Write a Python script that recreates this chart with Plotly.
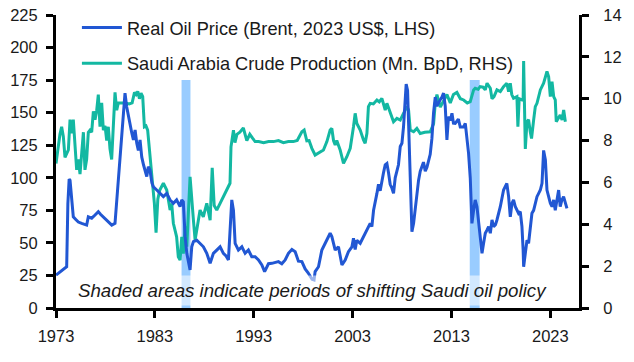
import plotly.graph_objects as go

# ---------------- data ----------------
price_years = [
    1973.0, 1973.3, 1973.58, 1973.9, 1974.08, 1974.2, 1974.33, 1974.42, 1974.59, 1974.75,
    1975.0, 1975.26, 1975.6, 1976.1, 1976.27, 1976.61, 1976.95, 1977.28, 1977.5, 1977.79,
    1978.13, 1978.64, 1978.97, 1979.14, 1979.3, 1979.65, 1979.8, 1979.98, 1980.15, 1980.32,
    1980.49, 1980.65, 1980.83, 1981.0, 1981.17, 1981.33, 1981.5, 1981.67, 1981.85, 1982.0,
    1982.18, 1982.34, 1982.5, 1982.7, 1982.85, 1983.19, 1983.53, 1983.86, 1984.2, 1984.54,
    1984.87, 1985.2, 1985.55, 1985.72, 1985.88, 1986.06, 1986.23, 1986.39, 1986.56, 1986.73,
    1986.9, 1987.24, 1987.57, 1987.91, 1988.25, 1988.59, 1988.92, 1989.26, 1989.6, 1989.93,
    1990.2, 1990.44, 1990.61, 1990.78, 1990.95, 1991.12, 1991.45, 1991.8, 1992.13, 1992.46,
    1992.8, 1993.14, 1993.48, 1993.82, 1994.1, 1994.49, 1994.83, 1995.17, 1995.5, 1995.84,
    1996.18, 1996.51, 1996.86, 1997.19, 1997.52, 1997.87, 1998.2, 1998.5, 1998.9, 1999.1,
    1999.21, 1999.55, 1999.89, 2000.23, 2000.4, 2000.73, 2000.9, 2001.24, 2001.57, 2001.92,
    2002.25, 2002.58, 2002.93, 2003.09, 2003.26, 2003.43, 2003.77, 2004.1, 2004.45, 2004.78,
    2004.95, 2005.12, 2005.46, 2005.62, 2005.79, 2005.96, 2006.13, 2006.3, 2006.47, 2006.63,
    2006.8, 2006.98, 2007.14, 2007.31, 2007.48, 2007.64, 2007.82, 2007.99, 2008.15, 2008.32,
    2008.42, 2008.56, 2008.66, 2008.83, 2008.95, 2009.0, 2009.17, 2009.34, 2009.5, 2009.67,
    2009.84, 2010.17, 2010.35, 2010.52, 2010.85, 2011.02, 2011.19, 2011.36, 2011.53, 2011.7,
    2011.87, 2012.04, 2012.2, 2012.37, 2012.54, 2012.7, 2012.88, 2013.05, 2013.2, 2013.38,
    2013.55, 2013.7, 2013.89, 2014.23, 2014.4, 2014.57, 2014.73, 2014.9, 2015.0, 2015.07,
    2015.24, 2015.4, 2015.58, 2015.74, 2015.91, 2016.09, 2016.25, 2016.42, 2016.6, 2016.76,
    2016.93, 2017.1, 2017.26, 2017.45, 2017.6, 2017.94, 2018.27, 2018.6, 2018.78, 2018.95,
    2019.12, 2019.28, 2019.45, 2019.62, 2019.79, 2019.96, 2020.13, 2020.25, 2020.3, 2020.47,
    2020.64, 2020.8, 2020.97, 2021.14, 2021.31, 2021.48, 2021.65, 2021.82, 2021.99, 2022.16,
    2022.32, 2022.5, 2022.66, 2022.83, 2023.0, 2023.17, 2023.34, 2023.5, 2023.68, 2023.84,
    2024.0, 2024.17, 2024.34, 2024.52, 2024.68,
]
price_values = [
    25.3, 27, 29.2, 30.5, 31.7, 80, 99, 98, 80.6, 70,
    68, 66, 65, 63.7, 70, 69, 71.4, 74, 72, 70,
    67.6, 63.7, 65, 83, 100, 131.6, 152, 165, 154.6, 147,
    142, 135, 129, 136.7, 126.5, 121, 129, 116, 110, 106,
    101, 108.5, 106, 96, 93, 90.6, 88, 85.5, 88, 83,
    80.4, 83, 77.8, 83, 81.6, 54.8, 42, 36.9, 29.2, 47,
    51, 52, 49.7, 47, 42, 34.3, 42, 44.5, 47, 42,
    40, 36.9, 60, 83, 75, 49.7, 44.5, 47, 42, 44.5,
    39.4, 39.4, 36.9, 33, 28, 34, 34.3, 35, 35.6, 34,
    36.9, 42, 45, 43.2, 36, 35.6, 30, 27, 22, 21.5,
    27.9, 31.7, 44.5, 49.7, 52, 57.4, 54.8, 44.5, 47, 33,
    36.9, 43.2, 47, 53.5, 45, 52, 49.7, 54.8, 60, 65,
    62.5, 75, 88, 95, 90, 98, 104, 110, 111, 104,
    95, 92, 88, 100, 106, 110, 124, 126.5, 139, 160,
    172, 167, 139, 90, 62, 58.6, 65, 78, 90, 98,
    105, 112, 105, 108, 118, 130, 150, 162, 155, 158,
    160, 162, 165, 155, 129, 147, 144, 149.5, 142, 141.8,
    144, 145, 139, 139, 141.8, 131.6, 118.8, 100, 80, 65,
    75, 83, 77.8, 67.6, 54.8, 42, 49.7, 57.4, 60, 62.5,
    57.4, 67.6, 62.5, 64, 67.6, 77.8, 90.6, 95.7, 85.5, 70,
    80.4, 83, 78, 75, 72.7, 74, 62.5, 44.5, 31.7, 42,
    52, 49.7, 62.5, 72.7, 75, 80, 85.5, 88, 90.6, 95.7,
    121, 113.7, 90.6, 85.5, 80.4, 77.8, 83, 75, 85.5, 90.6,
    77.8, 83, 85.5, 80.4, 76.5,
]

prod_years = [
    1973.0, 1973.1, 1973.25, 1973.4, 1973.57, 1973.74, 1973.91, 1974.08, 1974.25, 1974.42,
    1974.59, 1974.75, 1974.92, 1975.09, 1975.26, 1975.43, 1975.6, 1975.77, 1975.93, 1976.1,
    1976.27, 1976.44, 1976.61, 1976.78, 1976.95, 1977.12, 1977.28, 1977.45, 1977.62, 1977.79,
    1977.96, 1978.13, 1978.29, 1978.46, 1978.63, 1978.8, 1978.97, 1979.14, 1979.3, 1979.6,
    1980.0, 1980.4, 1980.7, 1980.94, 1981.1, 1981.27, 1981.44, 1981.6, 1981.77, 1981.94,
    1982.1, 1982.27, 1982.44, 1982.6, 1982.8, 1982.95, 1983.12, 1983.3, 1983.5, 1983.86,
    1984.2, 1984.54, 1984.7, 1984.87, 1985.2, 1985.37, 1985.55, 1985.72, 1985.88, 1986.06,
    1986.23, 1986.56, 1986.9, 1987.07, 1987.57, 1987.9, 1988.25, 1988.59, 1988.8, 1989.0,
    1989.26, 1989.6, 1989.93, 1990.28, 1990.6, 1990.7, 1990.95, 1991.1, 1991.3, 1991.6,
    1991.95, 1992.3, 1992.6, 1992.9, 1993.14, 1993.5, 1994.0, 1994.5, 1995.0, 1995.5,
    1996.0, 1996.5, 1997.0, 1997.4, 1997.87, 1998.1, 1998.37, 1998.6, 1998.88, 1999.21,
    1999.5, 1999.72, 2000.05, 2000.4, 2000.73, 2000.9, 2001.07, 2001.24, 2001.4, 2001.74,
    2002.08, 2002.42, 2002.76, 2003.09, 2003.26, 2003.43, 2003.77, 2004.1, 2004.27, 2004.45,
    2004.6, 2004.78, 2005.1, 2005.46, 2005.7, 2005.96, 2006.3, 2006.47, 2006.8, 2007.14,
    2007.48, 2007.82, 2008.15, 2008.5, 2008.66, 2008.83, 2009.17, 2009.5, 2009.84, 2010.3,
    2010.85, 2011.19, 2011.36, 2011.53, 2011.87, 2012.2, 2012.54, 2012.88, 2013.2, 2013.55,
    2013.9, 2014.23, 2014.6, 2014.9, 2015.24, 2015.4, 2015.7, 2015.9, 2016.2, 2016.42,
    2016.6, 2016.93, 2017.1, 2017.3, 2017.6, 2017.94, 2018.27, 2018.6, 2018.78, 2018.95,
    2019.1, 2019.28, 2019.62, 2019.72, 2019.85, 2020.13, 2020.25, 2020.3, 2020.4, 2020.47,
    2020.64, 2020.8, 2020.97, 2021.1, 2021.31, 2021.48, 2021.65, 2021.99, 2022.32, 2022.66,
    2022.83, 2023.0, 2023.17, 2023.34, 2023.5, 2023.6, 2024.0, 2024.19, 2024.35, 2024.52,
]
prod_values = [
    6.9, 7.3, 7.7, 8.3, 8.66, 8.2, 7.2, 7.4, 7.55, 9.0,
    8.35, 9.0, 7.7, 6.6, 7.1, 6.4, 7.4, 8.4, 6.6, 7.1,
    8.4, 8.5, 8.4, 9.4, 9.0, 9.45, 10.2, 8.66, 9.8, 8.5,
    8.7, 8.0, 8.66, 7.6, 7.1, 9.0, 10.3, 9.45, 9.8, 9.8,
    9.8, 9.75, 9.8, 10.3, 10.2, 10.35, 10.0, 10.26, 10.1, 8.66,
    8.7, 8.5, 7.6, 7.1, 5.8, 5.0, 3.6, 5.2, 5.64, 5.96,
    5.64, 4.68, 5.0, 4.05, 3.4, 2.45, 2.29, 3.4, 2.6, 3.9,
    2.93, 6.27, 4.2, 3.25, 4.68, 4.36, 5.0, 4.2, 6.7, 4.9,
    4.68, 5.0, 5.32, 5.64, 5.96, 7.7, 8.5, 7.9, 8.3, 8.4,
    8.6, 8.0, 8.3, 8.1, 7.95, 7.95, 7.9, 7.95, 7.95, 8.0,
    7.9, 7.95, 7.95, 8.0, 8.42, 8.5, 7.99, 8.0, 7.63, 7.31,
    7.4, 7.47, 7.55, 7.95, 8.5, 8.58, 8.0, 7.79, 8.0, 7.55,
    6.91, 7.23, 7.63, 8.66, 9.3, 8.82, 8.5, 8.03, 7.87, 8.35,
    9.62, 9.78, 9.75, 9.94, 9.85, 10.02, 9.46, 9.78, 9.3, 8.9,
    9.06, 8.98, 9.3, 9.62, 9.46, 8.5, 8.42, 8.58, 8.34, 8.4,
    8.42, 8.8, 9.78, 10.2, 9.6, 9.9, 10.2, 9.8, 10.2, 10.3,
    10.0, 9.94, 9.8, 9.86, 10.42, 10.5, 10.45, 10.58, 10.55, 10.42,
    10.74, 10.5, 10.0, 10.1, 10.42, 10.34, 10.58, 10.74, 10.34, 10.74,
    10.2, 10.02, 10.1, 8.66, 10.0, 9.94, 10.0, 11.8, 8.5, 7.6,
    8.9, 9.0, 8.42, 8.1, 8.98, 9.62, 9.78, 10.42, 10.74, 11.3,
    11.05, 10.1, 10.82, 10.1, 9.94, 8.9, 9.22, 8.98, 9.46, 8.9,
]

shaded_starts = [1985.7, 2014.85]
shaded_ends = [1986.6, 2015.85]
shade_top = 175

year_ticks = [1973, 1983, 1993, 2003, 2013, 2023]
left_ticks = [0, 25, 50, 75, 100, 125, 150, 175, 200, 225]
right_ticks = [0, 2, 4, 6, 8, 10, 12, 14]

price_name = "Real Oil Price (Brent, 2023 US$, LHS)"
prod_name = "Saudi Arabia Crude Production (Mn. BpD, RHS)"
note_text = "Shaded areas indicate periods of shifting Saudi oil policy"

# ---------------- figure ----------------
FONT = "Liberation Sans"
BLUE = "#2157d3"
TEAL = "#13b8a2"
SHADE = "#99ccff"
TXT = "#1a1a1a"

fig = go.Figure()
fig.add_trace(go.Scatter(x=price_years, y=price_values, name=price_name, mode="lines",
                         line=dict(color=BLUE, width=3), yaxis="y2", legendgroup="a"))
fig.add_trace(go.Scatter(x=prod_years, y=prod_values, name=prod_name, mode="lines",
                         line=dict(color=TEAL, width=3), yaxis="y", legendgroup="b"))

for s, e in zip(shaded_starts, shaded_ends):
    fig.add_shape(type="rect", xref="x", yref="y2", x0=s, x1=e, y0=0, y1=shade_top,
                  fillcolor=SHADE, line=dict(width=0), layer="below")

fig.add_annotation(text=f"<i>{note_text}</i>", xref="paper", yref="paper",
                   x=0.4904, y=0.0614, xanchor="center", yanchor="middle",
                   showarrow=False,
                   font=dict(family=FONT, size=18.7, color=TXT),
                   bgcolor="rgba(255,255,255,0.55)", borderpad=4)

axis_common = dict(showgrid=False, zeroline=False, showline=True, linecolor="black",
                   linewidth=3, ticks="outside", ticklen=7, tickwidth=3, tickcolor="black",
                   automargin=False, ticklabeloverflow="allow",
                   tickfont=dict(family=FONT, size=16.5, color=TXT))

fig.update_layout(
    width=634, height=362,
    margin=dict(l=56, r=55, t=15, b=54, autoexpand=False),
    paper_bgcolor="white", plot_bgcolor="white",
    xaxis=dict(range=[1973, 2025.9], tickvals=year_ticks, ticklabelstandoff=4,
               **axis_common),
    yaxis=dict(range=[0, 14], tickvals=right_ticks, side="right", ticklabelstandoff=11,
               **axis_common),
    yaxis2=dict(range=[0, 225], tickvals=left_ticks, side="left", overlaying="y",
                ticklabelstandoff=5, **axis_common),
    showlegend=True,
    legend=dict(x=0.04, y=1.02, xanchor="left", yanchor="top", bgcolor="rgba(0,0,0,0)",
                font=dict(family=FONT, size=18.2, color=TXT),
                traceorder="grouped", tracegroupgap=9, itemwidth=40),
)

# remove the browser's default 8px page margin so the chart fills the window
fig.write_html("out.html", config={"displayModeBar": False},
               post_script="document.body.style.margin='0px';")
